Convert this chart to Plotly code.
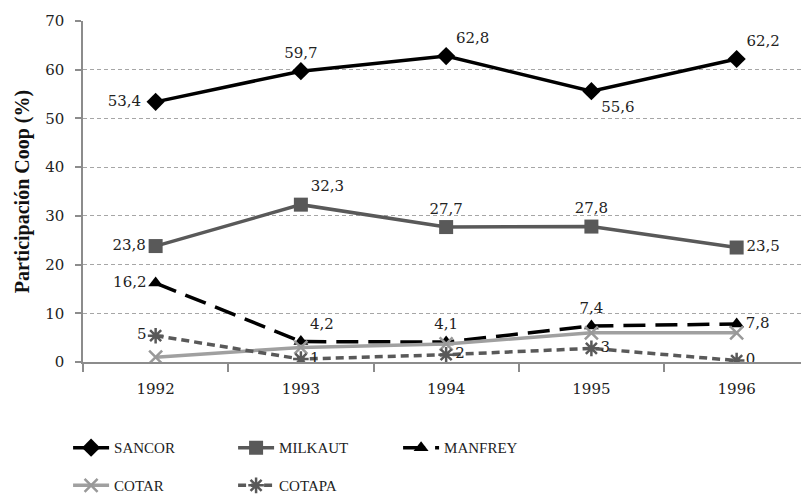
import plotly.graph_objects as go

years = ["1992", "1993", "1994", "1995", "1996"]
sancor = [53.4, 59.7, 62.8, 55.6, 62.2]
milkaut = [23.8, 32.3, 27.7, 27.8, 23.5]
manfrey = [16.2, 4.2, 4.1, 7.4, 7.8]
cotar = [1.0, 3.0, 3.7, 6.0, 6.0]
cotapa = [5.4, 0.6, 1.5, 2.8, 0.3]
yticks = [0, 10, 20, 30, 40, 50, 60, 70]


def lab1(vals):
    return [f"{v:.1f}".replace(".", ",") for v in vals]


def lab0(vals):
    return [f"{round(v + 1e-9):.0f}" for v in vals]


NUMFONT = dict(family="DejaVu Serif", size=15, color="#222222")
LEGFONT = dict(family="Liberation Serif", size=15, color="#222222")

fig = go.Figure()

fig.add_trace(go.Scatter(
    x=years, y=sancor, name="SANCOR", mode="lines+markers+text",
    line=dict(color="#000000", width=3.5),
    marker=dict(symbol="diamond", size=14, color="#000000"),
    text=[t + " " for t in lab1(sancor[:1])] + lab1(sancor[1:]),
    textposition=["middle left", "top center", "top right", "bottom right", "top right"],
    textfont=NUMFONT, legend="legend",
))
fig.add_trace(go.Scatter(
    x=years, y=milkaut, name="MILKAUT", mode="lines+markers+text",
    line=dict(color="#595959", width=3.5),
    marker=dict(symbol="square", size=14, color="#595959"),
    text=lab1(milkaut),
    textposition=["middle left", "top right", "top center", "top center", "middle right"],
    textfont=NUMFONT, legend="legend",
))
fig.add_trace(go.Scatter(
    x=years, y=manfrey, name="MANFREY", mode="lines+markers+text",
    line=dict(color="#000000", width=3.5, dash="22px,10px"),
    marker=dict(symbol="triangle-up", size=13, color="#000000"),
    text=lab1(manfrey),
    textposition=["middle left", "top right", "top center", "top center", "middle right"],
    textfont=NUMFONT, legend="legend",
))
fig.add_trace(go.Scatter(
    x=years, y=cotar, name="COTAR", mode="lines+markers",
    line=dict(color="#A0A0A0", width=3.5),
    marker=dict(symbol="x-thin-open", size=13, color="#999999", line=dict(width=2.5, color="#999999")),
    legend="legend2",
))
fig.add_trace(go.Scatter(
    x=years, y=cotapa, name="COTAPA", mode="lines+markers+text",
    line=dict(color="#595959", width=3.5, dash="8px,5px"),
    marker=dict(symbol="asterisk-open", size=13, color="#595959", line=dict(width=2.5, color="#595959")),
    text=lab0(cotapa),
    textposition=["middle left", "middle right", "middle right", "middle right", "middle right"],
    textfont=NUMFONT, legend="legend2",
))

fig.update_layout(
    width=801, height=496,
    margin=dict(l=83, r=0, t=21, b=134, autoexpand=False),
    plot_bgcolor="white", paper_bgcolor="white",
    showlegend=True,
    legend=dict(
        orientation="h", x=0.085, xref="container", xanchor="left",
        y=0.097, yref="container", yanchor="middle",
        font=LEGFONT, entrywidth=114, entrywidthmode="pixels",
        bgcolor="rgba(0,0,0,0)", itemwidth=36,
    ),
    legend2=dict(
        orientation="h", x=0.085, xref="container", xanchor="left",
        y=0.021, yref="container", yanchor="middle",
        font=LEGFONT, entrywidth=114, entrywidthmode="pixels",
        bgcolor="rgba(0,0,0,0)", itemwidth=36,
    ),
)

fig.update_xaxes(
    type="category", range=[-0.5, 4.443], automargin=False,
    showgrid=False, showline=True, linecolor="#8C8C8C", linewidth=1.5,
    ticks="outside", tickson="boundaries", ticklen=8, tickcolor="#8C8C8C", tickwidth=1.5,
    tickfont=NUMFONT, zeroline=False, ticklabelstandoff=12,
)
fig.update_yaxes(
    range=[0, 70], tickvals=yticks, automargin=False,
    showgrid=True, gridcolor="#A6A6A6", gridwidth=1, griddash="4px,3px",
    showline=True, linecolor="#8C8C8C", linewidth=1.5,
    ticks="outside", ticklen=6, tickcolor="#8C8C8C", tickwidth=1.5,
    tickfont=NUMFONT, zeroline=False, ticklabelstandoff=8,
    title=dict(text="Participación Coop (%)",
               font=dict(family="Liberation Serif", size=20, color="#111111", weight="bold"),
               standoff=10),
)

fig.write_html("out.html", config={"displayModeBar": False},
               post_script="document.body.style.margin='0';")
